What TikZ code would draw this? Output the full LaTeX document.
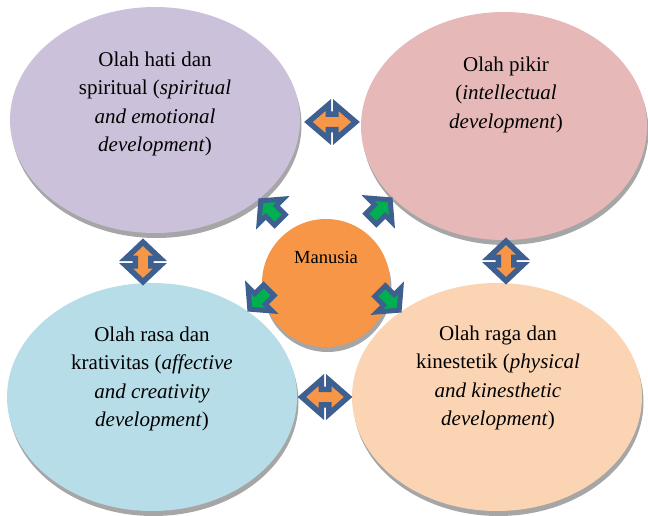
\documentclass[tikz,border=0pt]{standalone}
\usepackage{fontspec}
\setmainfont{Liberation Serif}
\usetikzlibrary{shapes.geometric,shadows}

\definecolor{hatifill}{HTML}{CCC1DA}
\definecolor{pikirfill}{HTML}{E6B9B8}
\definecolor{rasafill}{HTML}{B7DEE8}
\definecolor{ragafill}{HTML}{FBD4B4}
\definecolor{corefill}{HTML}{F79646}
\definecolor{arrowedge}{HTML}{3E6090}
\definecolor{arrowgreen}{HTML}{00B050}
\definecolor{shadowgray}{HTML}{A6A6A6}

\tikzset{
  bubble/.style={ellipse, inner sep=0pt, draw=none,
    drop shadow={shadow xshift=1.5pt, shadow yshift=-5pt, opacity=1, fill=shadowgray}},
  bubbletext/.style={align=center, font=\rmfamily\fontsize{21}{28.5}\selectfont, inner sep=0pt},
  blockarrow/.style={draw=arrowedge, line width=5.5pt, line join=miter},
  % two-headed block arrow, half length #1, along the x axis
  pics/dblarrow/.style={code={
    \filldraw[blockarrow, fill=corefill]
      (-#1,0) -- (-3.75,17) -- (-3.75,7.75) -- (3.75,7.75) -- (3.75,17) -- (#1,0)
      -- (3.75,-17) -- (3.75,-7.75) -- (-3.75,-7.75) -- (-3.75,-17) -- cycle;
  }},
  % one-headed block arrow pointing along +x
  pics/onearrow/.style={code={
    \filldraw[blockarrow, line width=5pt, fill=arrowgreen]
      (-14,-7.5) -- (-1.5,-7.5) -- (-1.5,-17) -- (13,0) -- (-1.5,17) -- (-1.5,7.5)
      -- (-14,7.5) -- cycle;
  }}
}

\begin{document}
\begin{tikzpicture}[x=1pt, y=-1pt]
  \useasboundingbox (0,0) rectangle (648,516);

  % the four development areas
  \node[bubble, fill=hatifill, minimum width=290pt, minimum height=226pt] (hati) at (155,120) {};
  \node[bubble, fill=pikirfill, minimum width=286pt, minimum height=228pt] (pikir) at (504,126) {};
  \node[bubble, fill=rasafill, minimum width=290pt, minimum height=228pt] (rasa) at (152,397) {};
  \node[bubble, fill=ragafill, minimum width=290pt, minimum height=228pt] (raga) at (497,397) {};

  \node[bubbletext] (hatitext) at (155,104)
    {Olah hati dan\\spiritual (\textit{spiritual}\\\textit{and emotional}\\\textit{development})};
  \node[bubbletext] (pikirtext) at (506,94.5)
    {Olah pikir\\(\textit{intellectual}\\\textit{development})};
  \node[bubbletext] (rasatext) at (152,379)
    {Olah rasa dan\\krativitas (\textit{affective}\\\textit{and creativity}\\\textit{development})};
  \node[bubbletext] (ragatext) at (498,378)
    {Olah raga dan\\kinestetik (\textit{physical}\\\textit{and kinesthetic}\\\textit{development})};

  % the centre
  \node[circle, inner sep=0pt, minimum size=128pt, fill=corefill,
    drop shadow={shadow xshift=1.5pt, shadow yshift=-5pt, opacity=1, fill=shadowgray}]
    (manusia) at (326,283) {};
  \node[font=\rmfamily\fontsize{18.5}{22}\selectfont, inner sep=0pt] (manusiatext) at (326,257) {Manusia};

  % links between neighbouring areas
  \pic at (332,122) {dblarrow=23.6};
  \pic at (325,397) {dblarrow=23.2};
  \pic[rotate=90] at (143,262) {dblarrow=19.8};
  \pic[rotate=90] at (506,261) {dblarrow=19.8};

  % from the centre outwards
  \pic[rotate=135] at (270,210) {onearrow};
  \pic[rotate=45] at (381,209) {onearrow};
  \pic[rotate=225] at (259,300) {onearrow};
  \pic[rotate=-45] at (390,301) {onearrow};
\end{tikzpicture}
\end{document}
